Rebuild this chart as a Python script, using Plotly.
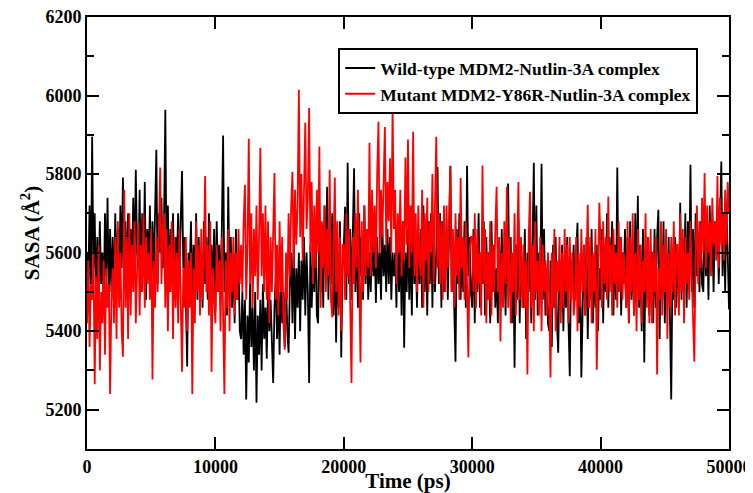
import plotly.graph_objects as go

# SASA (A^2) every 100 ps, wild-type MDM2-Nutlin-3A complex
sasa_wild = [
    5600, 5520, 5720, 5480, 5895, 5560, 5700, 5470, 5640, 5500, 5680, 5520, 5600, 5460, 5700, 5540, 5740, 5480, 5660, 5500,
    5640, 5480, 5700, 5540, 5660, 5500, 5720, 5560, 5791, 5520, 5680, 5500, 5700, 5580, 5660, 5520, 5740, 5560, 5811, 5600,
    5560, 5760, 5500, 5700, 5540, 5780, 5480, 5660, 5560, 5720, 5500, 5680, 5540, 5760, 5862, 5520, 5700, 5600, 5740, 5560,
    5680, 5964, 5540, 5720, 5500, 5660, 5560, 5700, 5480, 5640, 5580, 5700, 5520, 5680, 5808, 5560, 5640, 5480, 5310, 5600,
    5560, 5680, 5460, 5620, 5520, 5700, 5480, 5640, 5540, 5600, 5460, 5680, 5520, 5640, 5480, 5700, 5540, 5620, 5500, 5660,
    5450, 5680, 5540, 5620, 5480, 5660, 5898, 5500, 5600, 5440, 5768, 5520, 5640, 5460, 5600, 5420, 5660, 5480, 5580, 5400,
    5380, 5500, 5340, 5480, 5226, 5440, 5320, 5520, 5360, 5460, 5300, 5500, 5218, 5440, 5340, 5480, 5300, 5520, 5380, 5460,
    5330, 5520, 5400, 5480, 5360, 5268, 5460, 5540, 5380, 5500, 5340, 5560, 5420, 5500, 5360, 5540, 5400, 5345, 5520, 5600,
    5420, 5633, 5380, 5560, 5460, 5600, 5400, 5580, 5480, 5640, 5440, 5600, 5500, 5268, 5620, 5460, 5580, 5500, 5676, 5440,
    5420, 5700, 5500, 5640, 5460, 5720, 5540, 5768, 5480, 5660, 5520, 5700, 5440, 5640, 5371, 5600, 5460, 5680, 5333, 5560,
    5620, 5717, 5480, 5829, 5520, 5660, 5480, 5700, 5815, 5500, 5660, 5460, 5700, 5540, 5640, 5480, 5720, 5520, 5660, 5480,
    5600, 5500, 5660, 5540, 5620, 5472, 5640, 5520, 5600, 5480, 5676, 5540, 5620, 5500, 5660, 5520, 5640, 5480, 5600, 5540,
    5600, 5460, 5660, 5500, 5620, 5440, 5680, 5358, 5600, 5500, 5660, 5480, 5620, 5440, 5680, 5520, 5600, 5460, 5640, 5520,
    5660, 5460, 5720, 5500, 5640, 5440, 5680, 5520, 5700, 5460, 5640, 5500, 5600, 5818, 5520, 5700, 5460, 5680, 5500, 5640,
    5640, 5480, 5660, 5821, 5500, 5600, 5460, 5322, 5660, 5520, 5700, 5480, 5620, 5500, 5680, 5460, 5821, 5540, 5640, 5500,
    5460, 5660, 5420, 5620, 5500, 5700, 5460, 5600, 5520, 5680, 5440, 5640, 5480, 5600, 5420, 5680, 5500, 5620, 5460, 5560,
    5420, 5620, 5470, 5660, 5500, 5600, 5440, 5680, 5776, 5500, 5640, 5420, 5580, 5307, 5620, 5480, 5680, 5420, 5600, 5500,
    5460, 5660, 5380, 5600, 5500, 5680, 5420, 5640, 5829, 5480, 5720, 5440, 5600, 5500, 5826, 5480, 5660, 5440, 5560, 5420,
    5400, 5580, 5360, 5620, 5460, 5640, 5420, 5345, 5580, 5480, 5620, 5400, 5580, 5460, 5640, 5420, 5285, 5560, 5500, 5620,
    5480, 5600, 5676, 5420, 5560, 5282, 5500, 5620, 5440, 5640, 5380, 5600, 5480, 5660, 5420, 5580, 5460, 5620, 5400, 5560,
    5480, 5660, 5420, 5620, 5500, 5700, 5460, 5640, 5520, 5680, 5440, 5620, 5480, 5817, 5500, 5640, 5440, 5600, 5520, 5660,
    5460, 5640, 5420, 5680, 5480, 5620, 5440, 5700, 5500, 5745, 5460, 5620, 5400, 5660, 5320, 5580, 5480, 5640, 5440, 5600,
    5600, 5420, 5660, 5460, 5640, 5709, 5380, 5620, 5480, 5680, 5420, 5600, 5500, 5640, 5440, 5226, 5560, 5480, 5640, 5460,
    5600, 5500, 5727, 5480, 5640, 5520, 5700, 5460, 5680, 5540, 5824, 5500, 5660, 5460, 5700, 5540, 5640, 5500, 5680, 5520,
    5500, 5700, 5540, 5660, 5480, 5720, 5560, 5640, 5500, 5680, 5600, 5720, 5520, 5660, 5832, 5540, 5700, 5500, 5720, 5600,
    5455,
]

# SASA (A^2) every 100 ps, mutant MDM2-Y86R-Nutlin-3A complex
sasa_mutant = [
    5420, 5580, 5360, 5520, 5480, 5600, 5265, 5540, 5380, 5620, 5300, 5500, 5420, 5580, 5340, 5560, 5460, 5520, 5240, 5480,
    5560, 5420, 5640, 5380, 5680, 5460, 5600, 5400, 5335, 5760, 5460, 5640, 5380, 5700, 5440, 5620, 5500, 5680, 5420, 5600,
    5680, 5440, 5620, 5500, 5700, 5460, 5640, 5520, 5600, 5480, 5660, 5277, 5580, 5460, 5640, 5500, 5700, 5817, 5520, 5660,
    5700, 5460, 5660, 5400, 5620, 5500, 5680, 5380, 5640, 5460, 5600, 5420, 5660, 5500, 5297, 5560, 5460, 5640, 5400, 5580,
    5460, 5600, 5240, 5560, 5420, 5680, 5500, 5620, 5440, 5660, 5480, 5580, 5795, 5500, 5620, 5440, 5680, 5297, 5560, 5480,
    5420, 5620, 5500, 5580, 5400, 5640, 5460, 5240, 5580, 5460, 5660, 5400, 5600, 5500, 5640, 5440, 5600, 5480, 5660, 5520,
    5620, 5500, 5680, 5773, 5480, 5620, 5890, 5520, 5700, 5460, 5660, 5540, 5720, 5480, 5640, 5867, 5540, 5700, 5500, 5720,
    5480, 5680, 5420, 5640, 5500, 5700, 5803, 5480, 5620, 5440, 5680, 5500, 5640, 5420, 5353, 5600, 5480, 5700, 5540, 5720,
    5806, 5560, 5760, 5620, 5720, 6015, 5640, 5800, 5580, 5760, 5931, 5660, 5740, 5968, 5600, 5780, 5520, 5720, 5560, 5760,
    5600, 5870, 5460, 5680, 5560, 5720, 5500, 5660, 5540, 5811, 5480, 5435, 5640, 5791, 5500, 5680, 5440, 5640, 5400, 5620,
    5620, 5480, 5700, 5540, 5660, 5500, 5268, 5640, 5520, 5700, 5560, 5760, 5500, 5320, 5680, 5500, 5720, 5540, 5660, 5560,
    5880, 5540, 5760, 5600, 5720, 5560, 5800, 5933, 5600, 5760, 5640, 5820, 5920, 5620, 5780, 5680, 5840, 5600, 5977, 5660,
    5760, 5520, 5700, 5600, 5760, 5540, 5680, 5580, 5842, 5620, 5888, 5560, 5720, 5600, 5908, 5540, 5700, 5500, 5720, 5580,
    5540, 5760, 5460, 5700, 5580, 5740, 5500, 5680, 5600, 5800, 5520, 5720, 5895, 5560, 5700, 5520, 5680, 5480, 5720, 5500,
    5720, 5560, 5680, 5820, 5500, 5660, 5460, 5700, 5540, 5640, 5480, 5790, 5560, 5640, 5480, 5680, 5520, 5333, 5600, 5640,
    5640, 5500, 5700, 5460, 5660, 5520, 5600, 5440, 5822, 5520, 5660, 5420, 5600, 5480, 5680, 5440, 5620, 5500, 5660, 5768,
    5500, 5640, 5374, 5600, 5460, 5680, 5520, 5768, 5460, 5640, 5420, 5600, 5500, 5700, 5440, 5620, 5780, 5480, 5640, 5460,
    5620, 5460, 5580, 5290, 5640, 5755, 5460, 5620, 5400, 5680, 5500, 5580, 5440, 5640, 5400, 5620, 5500, 5580, 5440, 5600,
    5480, 5282, 5600, 5460, 5660, 5400, 5580, 5500, 5640, 5420, 5600, 5460, 5660, 5500, 5620, 5420, 5640, 5480, 5600, 5440,
    5480, 5640, 5400, 5600, 5460, 5660, 5500, 5620, 5440, 5580, 5722, 5460, 5640, 5420, 5600, 5500, 5660, 5302, 5560, 5727,
    5620, 5460, 5680, 5520, 5640, 5480, 5743, 5500, 5620, 5440, 5660, 5520, 5600, 5460, 5680, 5500, 5640, 5480, 5600, 5540,
    5460, 5680, 5420, 5640, 5500, 5700, 5440, 5600, 5400, 5660, 5480, 5620, 5420, 5580, 5500, 5700, 5460, 5640, 5420, 5660,
    5420, 5600, 5500, 5640, 5290, 5560, 5480, 5680, 5440, 5620, 5500, 5660, 5380, 5600, 5460, 5640, 5500, 5680, 5440, 5620,
    5620, 5440, 5700, 5500, 5660, 5420, 5640, 5520, 5600, 5480, 5680, 5540, 5420, 5322, 5600, 5720, 5520, 5680, 5560, 5740,
    5600, 5803, 5560, 5720, 5600, 5680, 5540, 5740, 5620, 5680, 5580, 5795, 5560, 5740, 5620, 5700, 5580, 5760, 5620, 5780,
    5700,
]

assert len(sasa_wild) == 501 and len(sasa_mutant) == 501

time_ps = [100 * i for i in range(len(sasa_wild))]

series_names = ["Wild-type MDM2-Nutlin-3A complex",
                "Mutant MDM2-Y86R-Nutlin-3A complex"]

serif = "Liberation Serif"

fig = go.Figure()
fig.add_trace(go.Scatter(x=time_ps, y=sasa_wild, mode="lines", name=series_names[0],
                         line=dict(color="#000000", width=1.8)))
fig.add_trace(go.Scatter(x=time_ps, y=sasa_mutant, mode="lines", name=series_names[1],
                         line=dict(color="#ff0000", width=1.8)))

# the page body adds an 8 px offset, so the figure is 8 px smaller on each axis
fig.update_layout(
    width=745, height=485,
    margin=dict(l=79, r=24, t=9, b=44),
    paper_bgcolor="white", plot_bgcolor="white",
    font=dict(family=serif, color="black"),
    legend=dict(x=0.952, y=0.928, xanchor="right", yanchor="top",
                bgcolor="white", bordercolor="black", borderwidth=2,
                font=dict(family=serif, size=17.5, weight="bold", color="black"),
                tracegroupgap=0),
)

fig.update_xaxes(
    range=[0, 50000], dtick=10000, tick0=0, tickformat="d",
    ticks="inside", ticklen=12, tickwidth=2, tickcolor="black",
    showline=True, linewidth=2, linecolor="black", mirror="ticks",
    showgrid=False, zeroline=False, automargin=False, ticklabeloverflow="allow",
    tickfont=dict(family=serif, size=18, weight="bold"),
    title=dict(text="Time (ps)", standoff=2,
               font=dict(family=serif, size=21, weight="bold")),
)
fig.update_yaxes(
    range=[5100, 6200], dtick=200, tick0=5200, tickformat="d",
    ticks="inside", ticklen=12, tickwidth=2, tickcolor="black",
    minor=dict(dtick=100, ticks="inside", ticklen=7, tickwidth=2, tickcolor="black"),
    showline=True, linewidth=2, linecolor="black", mirror="ticks",
    showgrid=False, zeroline=False, automargin=False, ticklabeloverflow="allow",
    tickfont=dict(family=serif, size=18, weight="bold"),
    title=dict(text="SASA (Å<sup>2</sup>)", standoff=0,
               font=dict(family=serif, size=21, weight="bold")),
)

fig.write_html("out.html")
